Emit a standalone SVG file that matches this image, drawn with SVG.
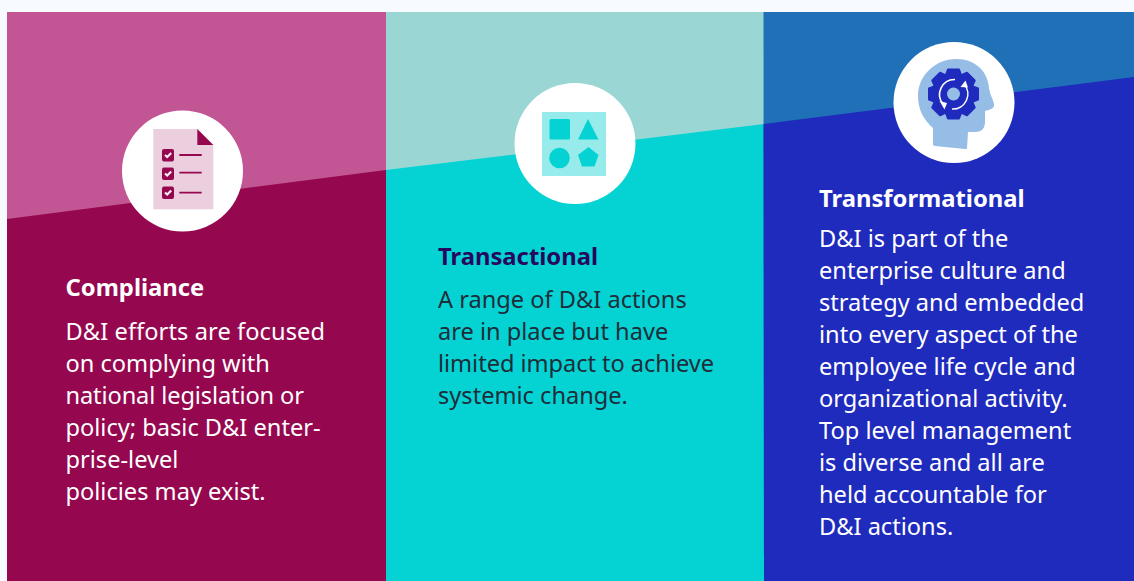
<svg xmlns="http://www.w3.org/2000/svg" width="1134" height="581" viewBox="0 0 1134 581">
<style>
text{font-family:"Noto Sans",sans-serif;font-size:23.600px}
.h{font-weight:700;font-size:23.800px}
.w{fill:#fff}
.d{fill:#1f2d3a}
</style>
<defs><polygon id="tooth" points="945.500,76 948,69.500 959,69.500 961.500,76" fill="#1f2bbd" stroke="#1f2bbd" stroke-width="2" stroke-linejoin="round"/></defs>
<rect width="1134" height="581" fill="#fff"/>
<rect width="1134" height="12" fill="#f7fbff"/>
<rect y="0" width="7" height="581" fill="#f7fbff"/>
<g id="compliance">
<rect x="7" y="12" width="379" height="569" fill="#c25694"/>
<polygon points="7,219 386,170 386,581 7,581" fill="#95084f"/>
<circle cx="182.500" cy="171" r="60.500" fill="#fff"/>
<polygon points="153.300,129 197.300,129 213.300,145 213.300,209.300 153.300,209.300" fill="#eccfdf"/>
<polygon points="197.300,129 213.300,145 197.300,145" fill="#95084f"/>
<g fill="#95084f"><rect x="162" y="149" width="12" height="12.500" rx="2"/><rect x="162" y="167.500" width="12" height="12.500" rx="2"/><rect x="162" y="186.500" width="12" height="12.500" rx="2"/></g>
<g fill="none" stroke="#fbeef5" stroke-width="2.200"><path d="M165 155l2.200 2 4-4M165 173.500l2.200 2 4-4M165 192.500l2.200 2 4-4"/></g>
<path d="M179.300 155H201.700M179.300 172.700H201.700M179.300 192.700H201.700" stroke="#95084f" stroke-width="1.800" fill="none"/>
<text class="h w" x="65.500" y="296">Compliance</text>
<text class="w" x="65.500" y="340" textLength="259.500">D&amp;I efforts are focused</text>
<text class="w" x="65.500" y="372">on complying with</text>
<text class="w" x="65.500" y="404" textLength="238.500">national legislation or</text>
<text class="w" x="65.500" y="436">policy; basic D&amp;I enter-</text>
<text class="w" x="65.500" y="468">prise-level</text>
<text class="w" x="65.500" y="500">policies may exist.</text>
</g>
<g id="transactional">
<rect x="386" y="12" width="378" height="569" fill="#9ad6d3"/>
<polygon points="386,170 764,124 764,581 386,581" fill="#05d3d3"/>
<circle cx="575" cy="143.500" r="60.500" fill="#fff"/>
<rect x="542" y="112" width="64" height="64" fill="#98ebeb"/>
<rect x="549.500" y="119" width="20.500" height="20.500" rx="1.500" fill="#05d3d3"/>
<polygon points="588,119 598.500,139.500 578,139.500" fill="#05d3d3"/>
<circle cx="559.500" cy="158" r="10.300" fill="#05d3d3"/>
<polygon points="588.500,147 598.500,155 594.500,166.500 582,166.500 578,155" fill="#05d3d3"/>
<text class="h" fill="#27085f" x="438" y="265">Transactional</text>
<text class="d" x="438" y="308">A range of D&amp;I actions</text>
<text class="d" x="438" y="340">are in place but have</text>
<text class="d" x="438" y="372" textLength="276">limited impact to achieve</text>
<text class="d" x="438" y="404">systemic change.</text>
</g>
<g id="transformational">
<polygon points="763.500,12 1134,12 1134,581 764,581" fill="#2070b8"/>
<polygon points="763.500,124 1134,77 1134,581 764,581" fill="#1f2bbd"/>
<circle cx="954" cy="102.500" r="60.500" fill="#fff"/>
<path d="M933 145V128C924 120 918 110 918 96C918 75 936 59 956 59C976 59 988 72 989 88C990 96 995 102 994 106C993 109 989 110 985 111V122C985 129 981 132 975 132H968L967 148C967 149 966 149 965 149L935 146Z" fill="#96bde6"/>
<circle cx="953.500" cy="94" r="21.500" fill="#1f2bbd"/>
<use href="#tooth"/>
<use href="#tooth" transform="rotate(45 953.500 94)"/>
<use href="#tooth" transform="rotate(90 953.500 94)"/>
<use href="#tooth" transform="rotate(135 953.500 94)"/>
<use href="#tooth" transform="rotate(180 953.500 94)"/>
<use href="#tooth" transform="rotate(225 953.500 94)"/>
<use href="#tooth" transform="rotate(270 953.500 94)"/>
<use href="#tooth" transform="rotate(315 953.500 94)"/>
<circle cx="953.500" cy="94" r="6.500" fill="#96bde6"/>
<g fill="none" stroke="#fff" stroke-width="1.600"><path d="M943 104A15 15 0 0 1 955 79.500"/><path d="M964 84A15 15 0 0 1 952 109"/></g>
<polygon points="939.500,101 947,103 944.500,109.500" fill="#fff"/>
<polygon points="960.500,87 968,87.500 965.500,80.500" fill="#fff"/>
<text class="h w" x="819" y="207">Transformational</text>
<text class="w" x="819" y="247">D&amp;I is part of the</text>
<text class="w" x="819" y="279">enterprise culture and</text>
<text class="w" x="819" y="311">strategy and embedded</text>
<text class="w" x="819" y="343">into every aspect of the</text>
<text class="w" x="819" y="375">employee life cycle and</text>
<text class="w" x="819" y="407">organizational activity.</text>
<text class="w" x="819" y="439">Top level management</text>
<text class="w" x="819" y="471">is diverse and all are</text>
<text class="w" x="819" y="503">held accountable for</text>
<text class="w" x="819" y="535">D&amp;I actions.</text>
</g>
</svg>
